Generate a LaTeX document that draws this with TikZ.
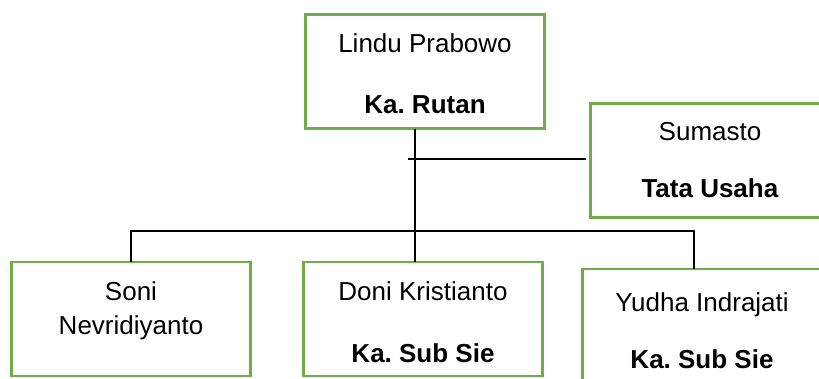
\documentclass[tikz,border=0pt]{standalone}
\usepackage{fontspec}
\setmainfont{Liberation Sans}
\usetikzlibrary{positioning}
\definecolor{boxgreen}{RGB}{112,173,71}
\frenchspacing

\begin{document}
\begin{tikzpicture}[x=1pt, y=-1pt]
	\tikzset {orgbox/.style={draw=boxgreen, line width=2.75pt, minimum width=239pt, minimum height=114pt, inner sep=0pt, outer sep=0pt}, boxtext/.style={anchor=north, align=center, inner sep=0pt, font=\fontsize{26}{34}\selectfont}, orgline/.style={draw=black, line width=1.6pt}}

	\useasboundingbox (0,0) rectangle (819,378);
	\clip (0,0) rectangle (819,378);

	\node[orgbox] (lindu) at (425,71.5) {};
	\node[orgbox] (sumasto) at (710,160.5) {};
	\node[orgbox] (soni) at (131,319) {};
	\node[orgbox] (doni) at (423,319) {};
	\node[orgbox] (yudha) at (702,326) {};

	\node[boxtext, below=19pt of lindu.north] (linduT) {Lindu Prabowo\\[27pt]\textbf{Ka. Rutan}};
	\node[boxtext, below=19pt of sumasto.north] (sumastoT) {Sumasto\\[23pt]\textbf{Tata Usaha}};
	\node[boxtext, below=19pt of soni.north] (soniT) {Soni\\Nevridiyanto};
	\node[boxtext, below=19pt of doni.north] (doniT) {Doni Kristianto\\[28pt]\textbf{Ka. Sub Sie}};
	\node[boxtext, below=23pt of yudha.north] (yudhaT) {Yudha Indrajati\\[23pt]\textbf{Ka. Sub Sie}};

	\draw[orgline] ([xshift=-10pt]lindu.south) -- ([xshift=-10pt]lindu.south |- doni.north);
	\draw[orgline] ([xshift=-17pt, yshift=1.5pt]lindu.south |- sumasto.west) -- ([xshift=-5pt, yshift=1.5pt]sumasto.west);
	\draw[orgline] (soni.north) -- ++(0,-31) -| ([xshift=-8pt]yudha.north);
\end{tikzpicture}
\end{document}
